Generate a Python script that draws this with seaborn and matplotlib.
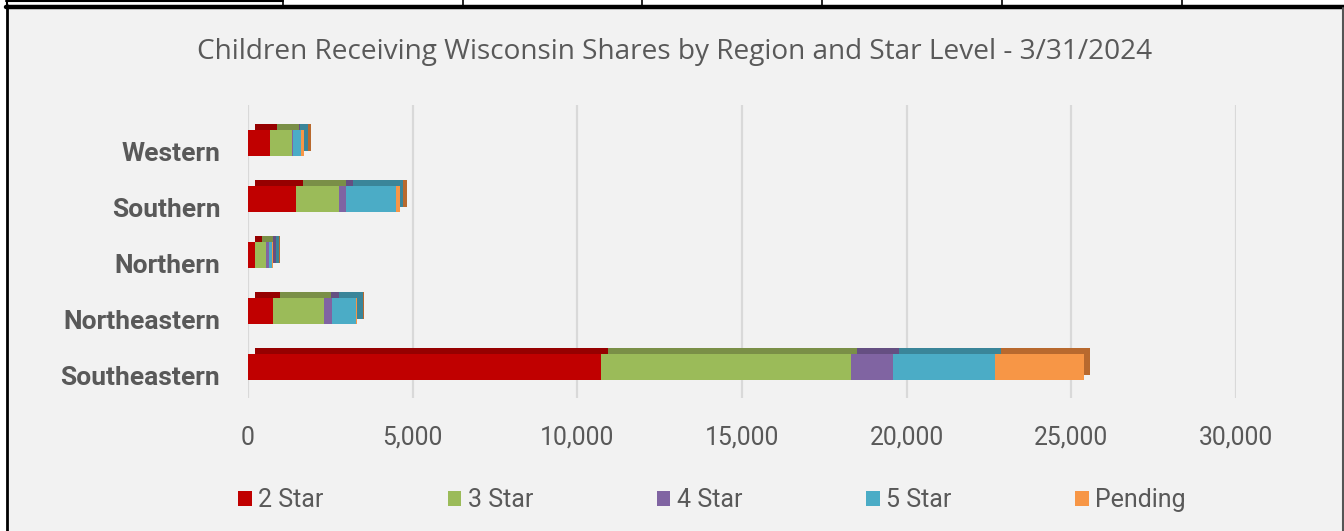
import numpy as np
import pandas as pd
import matplotlib
matplotlib.use("Agg")
import matplotlib.pyplot as plt
import matplotlib.patheffects as pe
import matplotlib.transforms as mtransforms
from matplotlib.patches import Patch
from matplotlib.lines import Line2D
import seaborn as sns

# data
regions = ["Western", "Southern", "Northern", "Northeastern", "Southeastern"]
levels = ["2 Star", "3 Star", "4 Star", "5 Star", "Pending"]
star2 = [670, 1460, 210, 760, 10730]
star3 = [670, 1310, 340, 1550, 7570]
star4 = [30, 210, 90, 240, 1275]
star5 = [240, 1520, 90, 730, 3100]
pending = [90, 120, 30, 30, 2700]
xticks = [0, 5000, 10000, 15000, 20000, 25000, 30000]

colors = ["#C00000", "#9BBB59", "#8064A2", "#4BACC6", "#F79646"]
tops = ["#960000", "#7A8F47", "#654F82", "#3A8599", "#B8692E"]
text_gray = "#595959"

df = pd.DataFrame({"Region": regions, "2 Star": star2, "3 Star": star3,
                   "4 Star": star4, "5 Star": star5, "Pending": pending})

sns.set_theme(style="white")
plt.rcParams["font.family"] = ["Roboto", "DejaVu Sans"]

fig = plt.figure(figsize=(13.44, 5.31), dpi=100)
fig.patch.set_facecolor("white")

# chart frame like the spreadsheet screenshot
W, H = 1344, 531
fig.patches.append(plt.Rectangle((6 / W, 0), 1336 / W, (H - 9) / H,
                                 transform=fig.transFigure, facecolor="#F2F2F2",
                                 edgecolor="none", zorder=-5))
fig.add_artist(Line2D([6 / W, 1], [1 - 6.5 / H] * 2, color="black", lw=3.2))
fig.add_artist(Line2D([6.5 / W] * 2, [0, 1 - 5 / H], color="black", lw=2))
fig.add_artist(Line2D([1342.5 / W] * 2, [0, 1 - 8 / H], color="#555555", lw=1.5))
fig.add_artist(Line2D([6 / W, 283 / W], [1 - 0.8 / H] * 2, color="black", lw=1.5))
fig.add_artist(Line2D([6.5 / W] * 2, [1 - 5 / H, 1], color="black", lw=1.5))
for xc in [283, 463, 642, 822, 1002, 1182]:
    fig.add_artist(Line2D([xc / W] * 2, [1 - 5 / H, 1], color="black", lw=1.2))

ax = fig.add_axes([248 / W, (H - 398) / H, 988 / W, 293 / H])
ax.set_facecolor("none")

# stacked 3D-looking bars: draw cumulative bars with seaborn, then trim to segments
cum = np.zeros(len(regions))
for i, lev in enumerate(levels):
    n_before = len(ax.patches)
    sns.barplot(x=cum + df[lev].values, y=df["Region"], order=regions, orient="h",
                color=colors[i], width=0.47, saturation=1, ax=ax, errorbar=None)
    for p in ax.patches[n_before:]:
        k = int(round(p.get_y() + p.get_height() / 2))
        p.set_x(cum[k])
        p.set_width(df[lev].values[k])
        p.set_facecolor(colors[i])
        p.set_edgecolor("none")
        p.set_zorder(3 + i * 0.1)
        p.set_path_effects([pe.SimplePatchShadow(offset=(4.8, 4.0), shadow_rgbFace=tops[i], alpha=1),
                            pe.Normal()])
    cum = cum + df[lev].values

ax.set_xlim(0, 30000)
ax.set_ylim(4.55, -0.68)
ax.set_xticks(xticks)
ax.set_xticklabels([f"{v:,}" for v in xticks], fontsize=17.8, color=text_gray)
ax.set_xlabel("")
ax.set_ylabel("")
ax.tick_params(axis="x", length=0, pad=20)
ax.tick_params(axis="y", length=0, pad=20)
for lab in ax.get_yticklabels():
    lab.set_fontsize(19)
    lab.set_fontweight("bold")
    lab.set_color(text_gray)
    lab.set_transform(lab.get_transform() + mtransforms.ScaledTranslation(0, -0.08, fig.dpi_scale_trans))

ax.grid(axis="x", color="#D9D9D9", lw=1.6)
ax.set_axisbelow(True)
sns.despine(ax=ax, left=True, bottom=True)

fig.text(675 / W, 1 - 59 / H, "Children Receiving Wisconsin Shares by Region and Star Level - 3/31/2024",
         ha="center", va="baseline", fontsize=20.2, color=text_gray,
         family=["Open Sans", "DejaVu Sans"])

handles = [Patch(facecolor=c, edgecolor="none", label=l) for c, l in zip(colors, levels)]
leg = fig.legend(handles=handles, loc="center", bbox_to_anchor=(712 / W, 1 - 500 / H), ncol=5,
                 frameon=False, fontsize=18, handlelength=0.55, handleheight=0.55,
                 handletextpad=0.25, columnspacing=4.95)
for t in leg.get_texts():
    t.set_color(text_gray)

fig.savefig("out.png", dpi=100, facecolor=fig.get_facecolor())
